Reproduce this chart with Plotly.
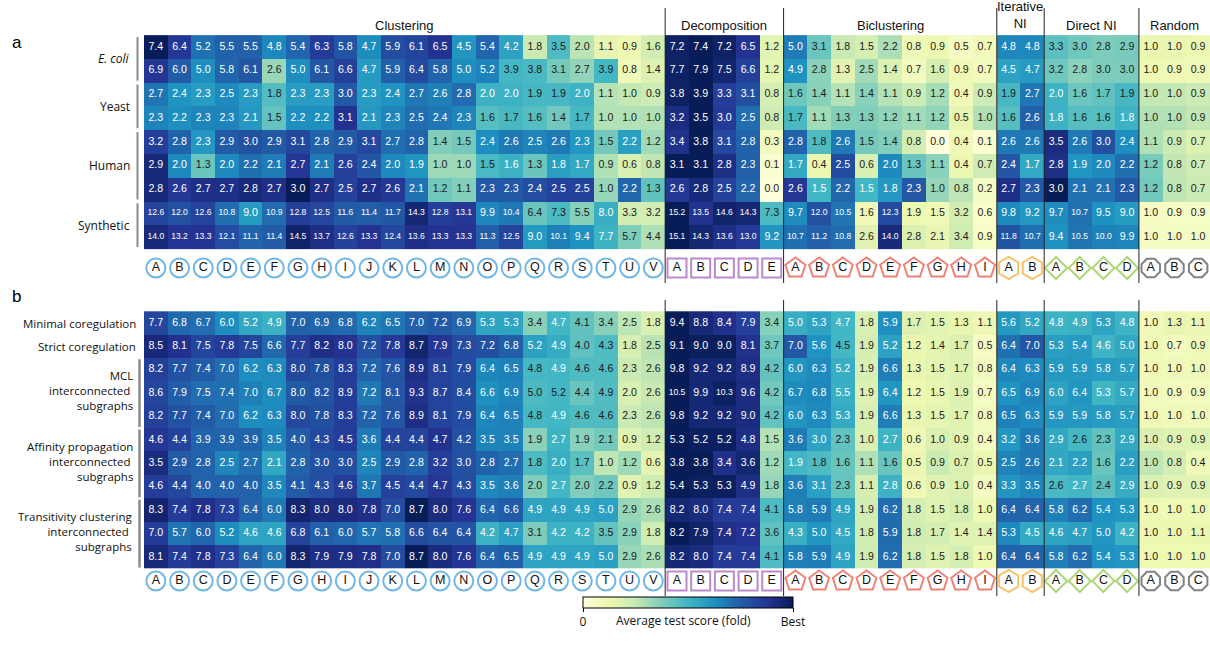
import plotly.graph_objects as go

W, H = 1210, 648

# ---------------- column groups ----------------
group_names = ["Clustering", "Decomposition", "Biclustering", "Iterative<br>NI", "Direct NI", "Random"]
clustering_ids = list("ABCDEFGHIJKLMNOPQRSTUV")
decomposition_ids = list("ABCDE")
biclustering_ids = list("ABCDEFGHI")
iterative_ids = list("AB")
direct_ids = list("ABCD")
random_ids = list("ABC")
group_ids = [clustering_ids, decomposition_ids, biclustering_ids, iterative_ids, direct_ids, random_ids]

# ---------------- panel a: benchmark datasets ----------------
a_groups = ["<i>E. coli</i>", "Yeast", "Human", "Synthetic"]
a_group_rows = [2, 2, 3, 2]

ecoli_1 = [7.4, 6.4, 5.2, 5.5, 5.5, 4.8, 5.4, 6.3, 5.8, 4.7, 5.9, 6.1, 6.5, 4.5, 5.4, 4.2, 1.8, 3.5, 2.0, 1.1, 0.9, 1.6,
           7.2, 7.4, 7.2, 6.5, 1.2, 5.0, 3.1, 1.8, 1.5, 2.2, 0.8, 0.9, 0.5, 0.7, 4.8, 4.8, 3.3, 3.0, 2.8, 2.9, 1.0, 1.0, 0.9]
ecoli_2 = [6.9, 6.0, 5.0, 5.8, 6.1, 2.6, 5.0, 6.1, 6.6, 4.7, 5.9, 6.4, 5.8, 5.0, 5.2, 3.9, 3.8, 3.1, 2.7, 3.9, 0.8, 1.4,
           7.7, 7.9, 7.5, 6.6, 1.2, 4.9, 2.8, 1.3, 2.5, 1.4, 0.7, 1.6, 0.9, 0.7, 4.5, 4.7, 3.2, 2.8, 3.0, 3.0, 1.0, 0.9, 0.9]
yeast_1 = [2.7, 2.4, 2.3, 2.5, 2.3, 1.8, 2.3, 2.3, 3.0, 2.3, 2.4, 2.7, 2.6, 2.8, 2.0, 2.0, 1.9, 1.9, 2.0, 1.1, 1.0, 0.9,
           3.8, 3.9, 3.3, 3.1, 0.8, 1.6, 1.4, 1.1, 1.4, 1.1, 0.9, 1.2, 0.4, 0.9, 1.9, 2.7, 2.0, 1.6, 1.7, 1.9, 1.0, 1.0, 0.9]
yeast_2 = [2.3, 2.2, 2.3, 2.3, 2.1, 1.5, 2.2, 2.2, 3.1, 2.1, 2.3, 2.5, 2.4, 2.3, 1.6, 1.7, 1.6, 1.4, 1.7, 1.0, 1.0, 1.0,
           3.2, 3.5, 3.0, 2.5, 0.8, 1.7, 1.1, 1.3, 1.3, 1.2, 1.1, 1.2, 0.5, 1.0, 1.6, 2.6, 1.8, 1.6, 1.6, 1.8, 1.0, 1.0, 0.9]
human_1 = [3.2, 2.8, 2.3, 2.9, 3.0, 2.9, 3.1, 2.8, 2.9, 3.1, 2.7, 2.8, 1.4, 1.5, 2.4, 2.6, 2.5, 2.6, 2.3, 1.5, 2.2, 1.2,
           3.4, 3.8, 3.1, 2.8, 0.3, 2.8, 1.8, 2.6, 1.5, 1.4, 0.8, 0.0, 0.4, 0.1, 2.6, 2.6, 3.5, 2.6, 3.0, 2.4, 1.1, 0.9, 0.7]
human_2 = [2.9, 2.0, 1.3, 2.0, 2.2, 2.1, 2.7, 2.1, 2.6, 2.4, 2.0, 1.9, 1.0, 1.0, 1.5, 1.6, 1.3, 1.8, 1.7, 0.9, 0.6, 0.8,
           3.1, 3.1, 2.8, 2.3, 0.1, 1.7, 0.4, 2.5, 0.6, 2.0, 1.3, 1.1, 0.4, 0.7, 2.4, 1.7, 2.8, 1.9, 2.0, 2.2, 1.2, 0.8, 0.7]
human_3 = [2.8, 2.6, 2.7, 2.7, 2.8, 2.7, 3.0, 2.7, 2.5, 2.7, 2.6, 2.1, 1.2, 1.1, 2.3, 2.3, 2.4, 2.5, 2.5, 1.0, 2.2, 1.3,
           2.6, 2.8, 2.5, 2.2, 0.0, 2.6, 1.5, 2.2, 1.5, 1.8, 2.3, 1.0, 0.8, 0.2, 2.7, 2.3, 3.0, 2.1, 2.1, 2.3, 1.2, 0.8, 0.7]
synthetic_1 = [12.6, 12.0, 12.6, 10.8, 9.0, 10.9, 12.8, 12.5, 11.6, 11.4, 11.7, 14.3, 12.8, 13.1, 9.9, 10.4, 6.4, 7.3, 5.5, 8.0, 3.3, 3.2,
               15.2, 13.5, 14.6, 14.3, 7.3, 9.7, 12.0, 10.5, 1.6, 12.3, 1.9, 1.5, 3.2, 0.6, 9.8, 9.2, 9.7, 10.7, 9.5, 9.0, 1.0, 0.9, 0.9]
synthetic_2 = [14.0, 13.2, 13.3, 12.1, 11.1, 11.4, 14.5, 13.7, 12.6, 13.3, 12.4, 13.6, 13.3, 13.3, 11.3, 12.5, 9.0, 10.1, 9.4, 7.7, 5.7, 4.4,
               15.1, 14.3, 13.6, 13.0, 9.2, 10.7, 11.2, 10.8, 2.6, 14.0, 2.8, 2.1, 3.4, 0.9, 11.8, 10.7, 9.4, 10.5, 10.0, 9.9, 1.0, 1.0, 1.0]
panel_a = [ecoli_1, ecoli_2, yeast_1, yeast_2, human_1, human_2, human_3, synthetic_1, synthetic_2]

# ---------------- panel b: module definitions ----------------
b_single_labels = ["Minimal coregulation", "Strict coregulation"]
b_groups = ["MCL<br>interconnected <br>subgraphs",
            "Affinity propagation<br>interconnected <br>subgraphs",
            "Transitivity clustering<br>interconnected <br>subgraphs"]

minimal_coreg = [7.7, 6.8, 6.7, 6.0, 5.2, 4.9, 7.0, 6.9, 6.8, 6.2, 6.5, 7.0, 7.2, 6.9, 5.3, 5.3, 3.4, 4.7, 4.1, 3.4, 2.5, 1.8,
                 9.4, 8.8, 8.4, 7.9, 3.4, 5.0, 5.3, 4.7, 1.8, 5.9, 1.7, 1.5, 1.3, 1.1, 5.6, 5.2, 4.8, 4.9, 5.3, 4.8, 1.0, 1.3, 1.1]
strict_coreg = [8.5, 8.1, 7.5, 7.8, 7.5, 6.6, 7.7, 8.2, 8.0, 7.2, 7.8, 8.7, 7.9, 7.3, 7.2, 6.8, 5.2, 4.9, 4.0, 4.3, 1.8, 2.5,
                9.1, 9.0, 9.0, 8.1, 3.7, 7.0, 5.6, 4.5, 1.9, 5.2, 1.2, 1.4, 1.7, 0.5, 6.4, 7.0, 5.3, 5.4, 4.6, 5.0, 1.0, 0.7, 0.9]
mcl_1 = [8.2, 7.7, 7.4, 7.0, 6.2, 6.3, 8.0, 7.8, 8.3, 7.2, 7.6, 8.9, 8.1, 7.9, 6.4, 6.5, 4.8, 4.9, 4.6, 4.6, 2.3, 2.6,
         9.8, 9.2, 9.2, 8.9, 4.2, 6.0, 6.3, 5.2, 1.9, 6.6, 1.3, 1.5, 1.7, 0.8, 6.4, 6.3, 5.9, 5.9, 5.8, 5.7, 1.0, 1.0, 1.0]
mcl_2 = [8.6, 7.9, 7.5, 7.4, 7.0, 6.7, 8.0, 8.2, 8.9, 7.2, 8.1, 9.3, 8.7, 8.4, 6.6, 6.9, 5.0, 5.2, 4.4, 4.9, 2.0, 2.6,
         10.5, 9.9, 10.3, 9.6, 4.2, 6.7, 6.8, 5.5, 1.9, 6.4, 1.2, 1.5, 1.9, 0.7, 6.5, 6.9, 6.0, 6.4, 5.3, 5.7, 1.0, 0.9, 0.9]
mcl_3 = [8.2, 7.7, 7.4, 7.0, 6.2, 6.3, 8.0, 7.8, 8.3, 7.2, 7.6, 8.9, 8.1, 7.9, 6.4, 6.5, 4.8, 4.9, 4.6, 4.6, 2.3, 2.6,
         9.8, 9.2, 9.2, 9.0, 4.2, 6.0, 6.3, 5.3, 1.9, 6.6, 1.3, 1.5, 1.7, 0.8, 6.5, 6.3, 5.9, 5.9, 5.8, 5.7, 1.0, 1.0, 1.0]
ap_1 = [4.6, 4.4, 3.9, 3.9, 3.9, 3.5, 4.0, 4.3, 4.5, 3.6, 4.4, 4.4, 4.7, 4.2, 3.5, 3.5, 1.9, 2.7, 1.9, 2.1, 0.9, 1.2,
        5.3, 5.2, 5.2, 4.8, 1.5, 3.6, 3.0, 2.3, 1.0, 2.7, 0.6, 1.0, 0.9, 0.4, 3.2, 3.6, 2.9, 2.6, 2.3, 2.9, 1.0, 0.9, 0.9]
ap_2 = [3.5, 2.9, 2.8, 2.5, 2.7, 2.1, 2.8, 3.0, 3.0, 2.5, 2.9, 2.8, 3.2, 3.0, 2.8, 2.7, 1.8, 2.0, 1.7, 1.0, 1.2, 0.6,
        3.8, 3.8, 3.4, 3.6, 1.2, 1.9, 1.8, 1.6, 1.1, 1.6, 0.5, 0.9, 0.7, 0.5, 2.5, 2.6, 2.1, 2.2, 1.6, 2.2, 1.0, 0.8, 0.4]
ap_3 = [4.6, 4.4, 4.0, 4.0, 4.0, 3.5, 4.1, 4.3, 4.6, 3.7, 4.5, 4.4, 4.7, 4.3, 3.5, 3.6, 2.0, 2.7, 2.0, 2.2, 0.9, 1.2,
        5.4, 5.3, 5.3, 4.9, 1.8, 3.6, 3.1, 2.3, 1.1, 2.8, 0.6, 0.9, 1.0, 0.4, 3.3, 3.5, 2.6, 2.7, 2.4, 2.9, 1.0, 0.9, 0.9]
tc_1 = [8.3, 7.4, 7.8, 7.3, 6.4, 6.0, 8.3, 8.0, 8.0, 7.8, 7.0, 8.7, 8.0, 7.6, 6.4, 6.6, 4.9, 4.9, 4.9, 5.0, 2.9, 2.6,
        8.2, 8.0, 7.4, 7.4, 4.1, 5.8, 5.9, 4.9, 1.9, 6.2, 1.8, 1.5, 1.8, 1.0, 6.4, 6.4, 5.8, 6.2, 5.4, 5.3, 1.0, 1.0, 1.0]
tc_2 = [7.0, 5.7, 6.0, 5.2, 4.6, 4.6, 6.8, 6.1, 6.0, 5.7, 5.8, 6.6, 6.4, 6.4, 4.2, 4.7, 3.1, 4.2, 4.2, 3.5, 2.9, 1.8,
        8.2, 7.9, 7.4, 7.2, 3.6, 4.3, 5.0, 4.5, 1.8, 5.9, 1.8, 1.7, 1.4, 1.4, 5.3, 4.5, 4.6, 4.7, 5.0, 4.2, 1.0, 1.0, 1.1]
tc_3 = [8.1, 7.4, 7.8, 7.3, 6.4, 6.0, 8.3, 7.9, 7.9, 7.8, 7.0, 8.7, 8.0, 7.6, 6.4, 6.5, 4.9, 4.9, 4.9, 5.0, 2.9, 2.6,
        8.2, 8.0, 7.4, 7.4, 4.1, 5.8, 5.9, 4.9, 1.9, 6.2, 1.8, 1.5, 1.8, 1.0, 6.4, 6.4, 5.8, 6.2, 5.4, 5.3, 1.0, 1.0, 1.0]
panel_b = [minimal_coreg, strict_coreg, mcl_1, mcl_2, mcl_3, ap_1, ap_2, ap_3, tc_1, tc_2, tc_3]

# ---------------- styling ----------------
YLGNBU = [[0.0, "#ffffd9"], [0.125, "#edf8b1"], [0.25, "#c7e9b4"], [0.375, "#7fcdbb"], [0.5, "#41b6c4"],
          [0.625, "#1d91c0"], [0.75, "#225ea8"], [0.875, "#253494"], [1.0, "#081d58"]]
group_symbols = ["circle-open", "square-open", "pentagon-open", "hexagon-open", "diamond-open", "octagon-open"]
group_colors = ["#3498db", "#9b59b6", "#e74c3c", "#f5a623", "#8cc63f", "#4d4d4d"]
group_marker_size = [19, 19, 21, 22, 17, 20]
CELL_FONT = "Liberation Sans, Arial, sans-serif"
LABEL_FONT = "Open Sans, Noto Sans, sans-serif"

n_cols = sum(len(g) for g in group_ids)
X0_PX = 144            # left edge of the heat maps (px)

# panel geometry in pixels: (domain top, domain bottom, first row centre, row pitch)
A_GEOM = (0, 290, 47.0, 23.75)
B_GEOM = (292, 600, 323.0, 23.4)


def row_of(px, geom):
    return (px - geom[2]) / geom[3]


def paper_y(px):
    return 1 - px / H


def paper_x(px):
    return px / W


fig = go.Figure()

boundaries = []
acc = 0
for g in group_ids[:-1]:
    acc += len(g)
    boundaries.append(acc - 0.5)


def add_panel(rows, axis_suffix, geom, icon_px, line_top_px, line_bot_px):
    xa = "x" + axis_suffix
    ya = "y" + axis_suffix
    z = []
    tx, ty, tt, tc, ts = [], [], [], [], []
    for r, vals in enumerate(rows):
        best = max(vals)
        frac = [v / best for v in vals]
        z.append(frac)
        for c, v in enumerate(vals):
            tx.append(c)
            ty.append(r)
            tt.append(f"{v:.1f}")
            tc.append("#ffffff" if frac[c] >= 0.5 else "#1a1a1a")
            ts.append(8.6 if v >= 10 else 10.6)
    fig.add_trace(go.Heatmap(z=z, x=list(range(n_cols)), y=list(range(len(rows))),
                             coloraxis="coloraxis", xaxis=xa, yaxis=ya, hoverinfo="skip"))
    fig.add_trace(go.Scatter(x=tx, y=ty, text=tt, mode="text", xaxis=xa, yaxis=ya,
                             textfont=dict(family=CELL_FONT, size=ts, color=tc),
                             hoverinfo="skip", showlegend=False))
    # method icons under the columns
    icon_row = row_of(icon_px, geom)
    mx, my, mt, ms, mc, msz = [], [], [], [], [], []
    c = 0
    for gi, ids in enumerate(group_ids):
        for letter in ids:
            mx.append(c)
            my.append(icon_row)
            mt.append(letter)
            ms.append(group_symbols[gi])
            mc.append(group_colors[gi])
            msz.append(group_marker_size[gi])
            c += 1
    fig.add_trace(go.Scatter(x=mx, y=my, text=mt, mode="markers+text", textposition="middle center",
                             xaxis=xa, yaxis=ya, cliponaxis=False,
                             marker=dict(symbol=ms, color=mc, size=msz, line=dict(width=2, color=mc)),
                             textfont=dict(family=CELL_FONT, size=12.5, color="#111"),
                             hoverinfo="skip", showlegend=False))
    # group separators
    for b in boundaries:
        fig.add_shape(type="line", xref=xa, yref=ya, x0=b, x1=b,
                      y0=row_of(line_top_px, geom), y1=row_of(line_bot_px, geom),
                      line=dict(color="#222", width=1))


add_panel(panel_a, "", A_GEOM, 268, 8, 283)
add_panel(panel_b, "2", B_GEOM, 581, 300, 596)

x_dom = [paper_x(X0_PX), 1.0]
axis_common = dict(showgrid=False, zeroline=False, showticklabels=False, ticks="", showline=False)
fig.update_layout(
    xaxis=dict(domain=x_dom, range=[-0.5, n_cols - 0.5], anchor="y", **axis_common),
    yaxis=dict(domain=[paper_y(A_GEOM[1]), paper_y(A_GEOM[0])],
               range=[row_of(A_GEOM[1], A_GEOM), row_of(A_GEOM[0], A_GEOM)], anchor="x", **axis_common),
    xaxis2=dict(domain=x_dom, range=[-0.5, n_cols - 0.5], anchor="y2", **axis_common),
    yaxis2=dict(domain=[paper_y(B_GEOM[1]), paper_y(B_GEOM[0])],
                range=[row_of(B_GEOM[1], B_GEOM), row_of(B_GEOM[0], B_GEOM)], anchor="x2", **axis_common),
)

# group headers over panel a
start = 0
for name, ids in zip(group_names, group_ids):
    centre = start + (len(ids) - 1) / 2
    y_hdr = row_of(15 if "<br>" in name else 25, A_GEOM)
    fig.add_annotation(x=centre, y=y_hdr, xref="x", yref="y", text=name, showarrow=False,
                       font=dict(family=CELL_FONT, size=13, color="#111"),
                       xanchor="center", yanchor="middle")
    start += len(ids)

# row labels panel a
r0 = 0
for label, n in zip(a_groups, a_group_rows):
    mid = r0 + (n - 1) / 2
    fig.add_annotation(x=paper_x(132), y=mid, xref="paper", yref="y", text=label, showarrow=False,
                       xanchor="right", yanchor="middle", font=dict(family=LABEL_FONT, size=12, color="#111"))
    fig.add_shape(type="line", xref="paper", yref="y", x0=paper_x(137.5), x1=paper_x(137.5),
                  y0=r0 - 0.42, y1=r0 + n - 0.58, line=dict(color="#8a8a8a", width=2))
    r0 += n

# row labels panel b
for i, label in enumerate(b_single_labels):
    fig.add_annotation(x=paper_x(138), y=i, xref="paper", yref="y2", text=label, showarrow=False,
                       xanchor="right", yanchor="middle", font=dict(family=LABEL_FONT, size=11.5, color="#111"))
for gi, label in enumerate(b_groups):
    r_start = 2 + 3 * gi
    fig.add_annotation(x=paper_x(135), y=r_start + 1 - 0.1, xref="paper", yref="y2", text=label, showarrow=False,
                       xanchor="right", yanchor="middle", align="right",
                       font=dict(family=LABEL_FONT, size=11.5, color="#111"))
    fig.add_shape(type="line", xref="paper", yref="y2", x0=paper_x(139.5), x1=paper_x(139.5),
                  y0=r_start - 0.45, y1=r_start + 2.45, line=dict(color="#8a8a8a", width=2.5))

# panel letters
fig.add_annotation(x=paper_x(10), y=paper_y(43), xref="paper", yref="paper", text="a", showarrow=False,
                   xanchor="left", yanchor="middle", font=dict(family=CELL_FONT, size=17, color="#000"))
fig.add_annotation(x=paper_x(10), y=paper_y(297), xref="paper", yref="paper", text="b", showarrow=False,
                   xanchor="left", yanchor="middle", font=dict(family=CELL_FONT, size=17, color="#000"))

# colour scale
cb_left, cb_right, cb_top = 583, 793, 597
fig.update_layout(
    coloraxis=dict(
        colorscale=YLGNBU, cmin=0, cmax=1,
        colorbar=dict(orientation="h", lenmode="pixels", len=cb_right - cb_left, thickness=11,
                      x=paper_x((cb_left + cb_right) / 2), xanchor="center",
                      y=paper_y(cb_top), yanchor="top", xpad=0, ypad=0,
                      outlinewidth=1, outlinecolor="#000",
                      tickvals=[0, 1], ticktext=["0", "Best"], ticks="outside", ticklen=4,
                      tickcolor="#000", tickfont=dict(family=LABEL_FONT, size=12, color="#111"))),
)
fig.add_annotation(x=paper_x(683), y=paper_y(620), xref="paper", yref="paper",
                   text="Average test score (fold)", showarrow=False, xanchor="center", yanchor="middle",
                   font=dict(family=LABEL_FONT, size=12, color="#111"))

fig.update_layout(width=W, height=H, autosize=False, margin=dict(l=0, r=0, t=0, b=0),
                  paper_bgcolor="white", plot_bgcolor="white", showlegend=False)

fig.write_html("out.html")
